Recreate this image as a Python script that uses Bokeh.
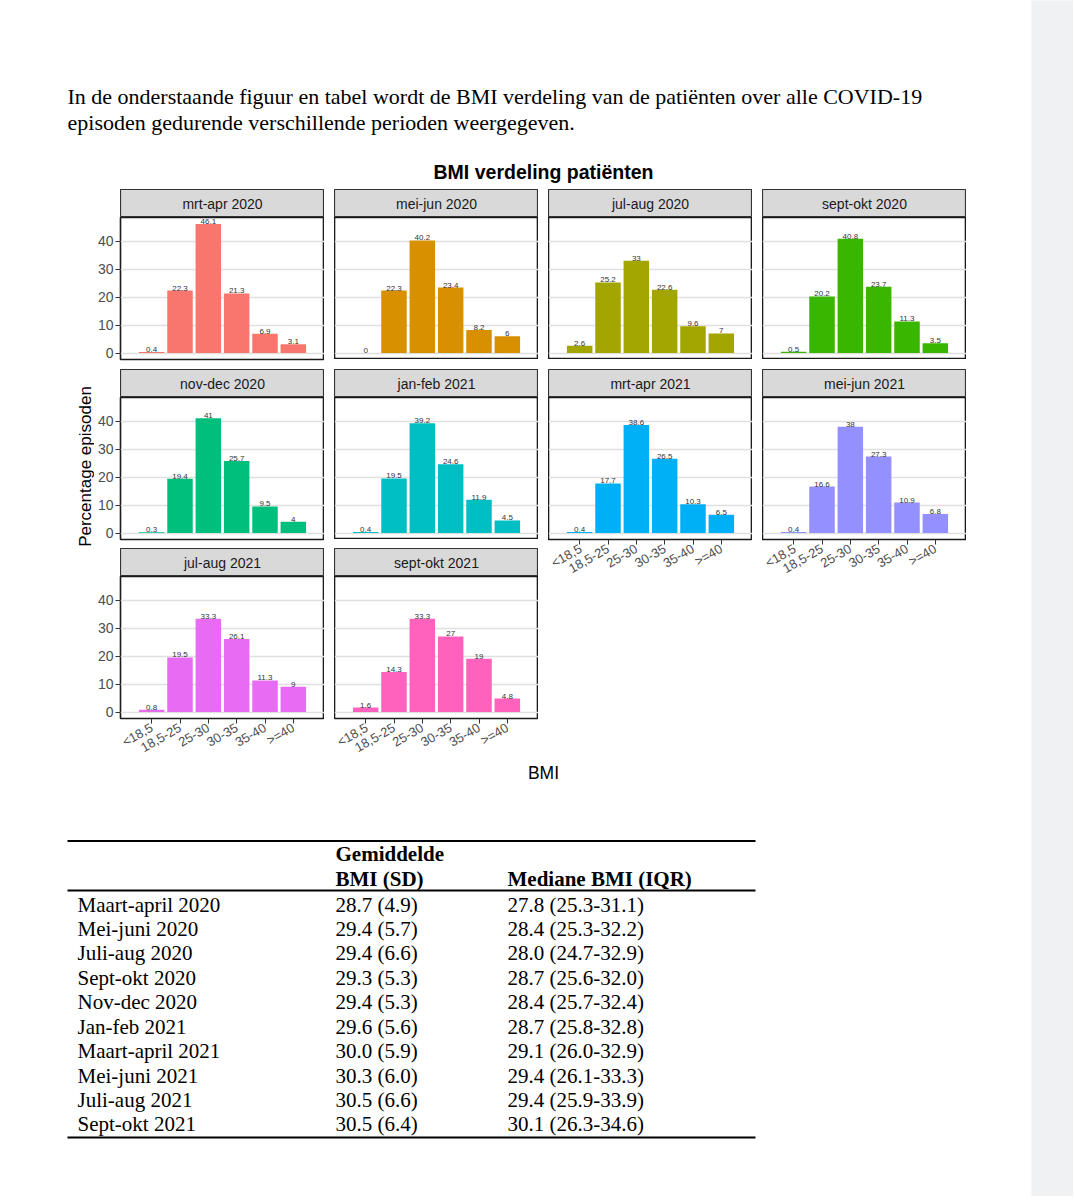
import math
from bokeh.plotting import figure
from bokeh.models import Range1d, FactorRange, FixedTicker, LinearAxis, CategoricalAxis, Spacer, ColumnDataSource
from bokeh.layouts import row, column
from bokeh.core.properties import value
from bokeh.embed import file_html
from bokeh.resources import INLINE

# ---------------- data ----------------
bmi_classes = ["<18,5", "18,5-25", "25-30", "30-35", "35-40", ">=40"]
periods = ["mrt-apr 2020", "mei-jun 2020", "jul-aug 2020", "sept-okt 2020",
           "nov-dec 2020", "jan-feb 2021", "mrt-apr 2021", "mei-jun 2021",
           "jul-aug 2021", "sept-okt 2021"]
pct_mrt_apr_2020 = [0.4, 22.3, 46.1, 21.3, 6.9, 3.1]
pct_mei_jun_2020 = [0, 22.3, 40.2, 23.4, 8.2, 6]
pct_jul_aug_2020 = [2.6, 25.2, 33, 22.6, 9.6, 7]
pct_sept_okt_2020 = [0.5, 20.2, 40.8, 23.7, 11.3, 3.5]
pct_nov_dec_2020 = [0.3, 19.4, 41, 25.7, 9.5, 4]
pct_jan_feb_2021 = [0.4, 19.5, 39.2, 24.6, 11.9, 4.5]
pct_mrt_apr_2021 = [0.4, 17.7, 38.6, 26.5, 10.3, 6.5]
pct_mei_jun_2021 = [0.4, 16.6, 38, 27.3, 10.9, 6.8]
pct_jul_aug_2021 = [0.8, 19.5, 33.3, 26.1, 11.3, 9]
pct_sept_okt_2021 = [1.6, 14.3, 33.3, 27, 19, 4.8]
series = [pct_mrt_apr_2020, pct_mei_jun_2020, pct_jul_aug_2020, pct_sept_okt_2020,
          pct_nov_dec_2020, pct_jan_feb_2021, pct_mrt_apr_2021, pct_mei_jun_2021,
          pct_jul_aug_2021, pct_sept_okt_2021]
colors = ["#F8766D", "#D89000", "#A3A500", "#39B600", "#00BF7D",
          "#00BFC4", "#00B0F6", "#9590FF", "#E76BF3", "#FF62BC"]
y_ticks = [0, 10, 20, 30, 40]

intro_lines = ["In de onderstaande figuur en tabel wordt de BMI verdeling van de patiënten over alle COVID-19",
               "episoden gedurende verschillende perioden weergegeven."]
chart_title = "BMI verdeling patiënten"
y_title = "Percentage episoden"
x_title = "BMI"

table_head_top = ["Gemiddelde"]
table_head = ["BMI (SD)", "Mediane BMI (IQR)"]
table_periods = ["Maart-april 2020", "Mei-juni 2020", "Juli-aug 2020", "Sept-okt 2020",
                 "Nov-dec 2020", "Jan-feb 2021", "Maart-april 2021", "Mei-juni 2021",
                 "Juli-aug 2021", "Sept-okt 2021"]
table_mean_sd = ["28.7 (4.9)", "29.4 (5.7)", "29.4 (6.6)", "29.3 (5.3)", "29.4 (5.3)",
                 "29.6 (5.6)", "30.0 (5.9)", "30.3 (6.0)", "30.5 (6.6)", "30.5 (6.4)"]
table_median_iqr = ["27.8 (25.3-31.1)", "28.4 (25.3-32.2)", "28.0 (24.7-32.9)", "28.7 (25.6-32.0)",
                    "28.4 (25.7-32.4)", "28.7 (25.8-32.8)", "29.1 (26.0-32.9)", "29.4 (26.1-33.3)",
                    "29.4 (25.9-33.9)", "30.1 (26.3-34.6)"]

# ---------------- layout constants ----------------
SANS = "Liberation Sans"
SERIF = "Liberation Serif"
MARGIN = 8
CONTENT_W = 1023
GREY_W = 42
PAGE_H = 1196
HEADER_H = 181
PANEL_W, PANEL_H, STRIP_H = 204, 142, 28
GAP = 10
ROW_GAPS = [10, 9]
AXIS_L, AXIS_B = 26, 46
LABEL_PAD = 4          # room below col-1 panels for the "0" tick label
YT_W = 86
NCOL = 4
GRID_H = 3 * (STRIP_H + PANEL_H) + sum(ROW_GAPS) + AXIS_B
BOTTOM_H = PAGE_H - MARGIN - HEADER_H - GRID_H - 4

ymax = max(max(s) for s in series)
y_lo, y_hi = -0.05 * ymax, 1.05 * ymax


def canvas(w, h, bg="white"):
    f = figure(width=w, height=h, x_range=Range1d(0, w), y_range=Range1d(h, 0),
               x_axis_location=None, y_axis_location=None, tools="",
               toolbar_location=None, output_backend="svg", min_border=0,
               outline_line_color=None, background_fill_color=bg, border_fill_color=bg)
    f.xgrid.visible = False
    f.ygrid.visible = False
    return f


def make_strip(i):
    s = figure(frame_width=PANEL_W, frame_height=STRIP_H, x_range=FactorRange(factors=[periods[i]]),
               y_range=Range1d(0, 1), x_axis_location=None, y_axis_location=None, tools="",
               toolbar_location=None, output_backend="svg", min_border=0,
               background_fill_color="#d9d9d9", border_fill_color="white",
               outline_line_color="#333333", outline_line_width=1.2)
    s.xgrid.visible = False
    s.ygrid.visible = False
    s.text(x=[periods[i]], y=[0.5], text=[periods[i]], text_align="center", text_baseline="middle",
           text_font=value(SANS), text_font_size="14px", text_color="#1a1a1a")
    return s


def make_panel(i, left_axis, bottom_axis):
    p = figure(frame_width=PANEL_W, frame_height=PANEL_H,
               x_range=FactorRange(factors=bmi_classes, range_padding=0.2),
               y_range=Range1d(y_lo, y_hi), x_axis_location=None, y_axis_location=None,
               tools="", toolbar_location=None, output_backend="svg", min_border=0,
               background_fill_color="white", border_fill_color="white",
               outline_line_color="#1a1a1a", outline_line_width=1.6)
    p.min_border_left = AXIS_L if left_axis else 0
    if bottom_axis:
        p.min_border_bottom = AXIS_B
    elif left_axis:
        p.min_border_bottom = LABEL_PAD
    p.xgrid.visible = False
    p.ygrid.ticker = FixedTicker(ticks=y_ticks)
    p.ygrid.grid_line_color = "#e0e0e0"
    p.ygrid.grid_line_width = 1.3
    src = ColumnDataSource(dict(x=bmi_classes, top=series[i],
                                label=[f"{v:g}" for v in series[i]]))
    p.vbar(x="x", top="top", width=0.9, source=src, fill_color=colors[i], line_color=None)
    p.text(x="x", y="top", text="label", source=src, text_align="center", text_baseline="bottom",
           text_font=value(SANS), text_font_size="8px", text_color="#333333")
    if left_axis:
        ax = LinearAxis(ticker=FixedTicker(ticks=y_ticks))
        ax.axis_line_color = None
        ax.major_tick_line_color = "#333333"
        ax.major_tick_in = 0
        ax.major_tick_out = 5
        ax.minor_tick_line_color = None
        ax.major_label_standoff = 2
        ax.major_label_text_font = SANS
        ax.major_label_text_font_size = "14px"
        ax.major_label_text_color = "#4d4d4d"
        p.add_layout(ax, "left")
    if bottom_axis:
        ax = CategoricalAxis()
        ax.axis_line_color = None
        ax.major_tick_line_color = "#333333"
        ax.major_tick_in = 0
        ax.major_tick_out = 5
        ax.minor_tick_line_color = None
        ax.major_label_standoff = 3
        ax.major_label_orientation = math.pi / 6
        ax.major_label_text_font = SANS
        ax.major_label_text_font_size = "13px"
        ax.major_label_text_color = "#4d4d4d"
        p.add_layout(ax, "below")
    return p


# ---------------- header ----------------
hdr = canvas(CONTENT_W, HEADER_H)
hdr.text(x=[59] * len(intro_lines), y=[87.5 + 26.5 * k for k in range(len(intro_lines))], text=intro_lines,
         text_align="left", text_baseline="alphabetic", text_font=value(SERIF),
         text_font_size="22px", text_color="black")
hdr.text(x=[535], y=[163], text=[chart_title], text_align="center", text_baseline="middle",
         text_font=value(SANS), text_font_style="bold", text_font_size="19.5px", text_color="black")

# ---------------- facet grid ----------------
cols = []
for c in range(NCOL):
    items = []
    idxs = [i for i in range(len(periods)) if i % NCOL == c]
    for k, i in enumerate(idxs):
        if k > 0:
            gap_h = ROW_GAPS[k - 1] - (LABEL_PAD if c == 0 else 0)
            items.append(Spacer(width=PANEL_W, height=gap_h))
        strip = make_strip(i)
        if c == 0:
            items.append(row(Spacer(width=AXIS_L, height=STRIP_H), strip))
        else:
            items.append(strip)
        items.append(make_panel(i, left_axis=(c == 0), bottom_axis=(i + NCOL >= len(periods))))
    cols.append(column(*items))

yt = canvas(YT_W, GRID_H)
yt.text(x=[77], y=[277], text=[y_title], angle=math.pi / 2, text_align="center", text_baseline="middle",
        text_font=value(SANS), text_font_size="17px", text_color="black")

rest_w = CONTENT_W - (YT_W + AXIS_L + PANEL_W + (NCOL - 1) * (GAP + PANEL_W))
grid_children = [yt, cols[0]]
for c in range(1, NCOL):
    grid_children += [Spacer(width=GAP, height=1), cols[c]]
grid_children.append(Spacer(width=rest_w, height=1))
grid_row = row(*grid_children)

# ---------------- bottom: x title + table ----------------
bot = canvas(CONTENT_W, BOTTOM_H)
bot.text(x=[535], y=[8], text=[x_title], text_align="center", text_baseline="middle",
         text_font=value(SANS), text_font_size="17.5px", text_color="black")

T_LEFT, T_RIGHT = 59, 747
RULE_TOP, RULE_HEAD, RULE_BOT = 76.5, 126, 373
COL_X = [69, 327, 499]
ROW0_Y, ROW_PITCH = 140, 24.44

bot.segment(x0=[T_LEFT] * 3, x1=[T_RIGHT] * 3, y0=[RULE_TOP, RULE_HEAD, RULE_BOT],
            y1=[RULE_TOP, RULE_HEAD, RULE_BOT], line_color="black", line_width=2)
bot.text(x=[COL_X[1]], y=[89], text=table_head_top, text_align="left", text_baseline="middle",
         text_font=value(SERIF), text_font_style="bold", text_font_size="21px", text_color="black")
bot.text(x=COL_X[1:], y=[114, 114], text=table_head, text_align="left", text_baseline="middle",
         text_font=value(SERIF), text_font_style="bold", text_font_size="21px", text_color="black")
row_y = [ROW0_Y + k * ROW_PITCH for k in range(len(table_periods))]
for cx, col_text in zip(COL_X, [table_periods, table_mean_sd, table_median_iqr]):
    bot.text(x=[cx] * len(col_text), y=row_y, text=col_text, text_align="left", text_baseline="middle",
             text_font=value(SERIF), text_font_size="21px", text_color="black")

content = column(hdr, grid_row, bot)
inner = column(Spacer(width=10, height=MARGIN), row(Spacer(width=MARGIN, height=10), content))
grey = canvas(GREY_W, PAGE_H, bg="#f0f1f3")

page = row(inner, grey)

open("out.html", "w").write(file_html(page, INLINE))
